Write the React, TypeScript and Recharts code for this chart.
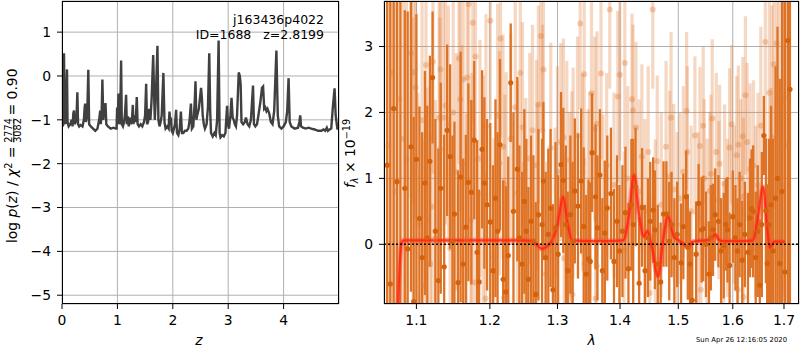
import React from 'react';
import {
  LineChart,
  Line,
  ComposedChart,
  Scatter,
  ErrorBar,
  XAxis,
  YAxis,
  CartesianGrid,
  ReferenceLine,
} from 'recharts';

const FONT = '"DejaVu Sans", sans-serif';

// left panel: log p(z) against redshift
const pzZ = [
  0.0, 0.01, 0.025, 0.036, 0.048, 0.06, 0.075, 0.09, 0.1, 0.12, 0.15, 0.175, 0.19, 0.205, 0.217, 0.228,
  0.245, 0.262, 0.277, 0.29, 0.31, 0.335, 0.37, 0.395, 0.41, 0.42, 0.432, 0.455, 0.475, 0.49, 0.52, 0.56,
  0.6, 0.64, 0.67, 0.69, 0.7, 0.715, 0.729, 0.745, 0.77, 0.785, 0.8, 0.83, 0.88, 0.93, 0.97, 0.985, 0.995,
  1.005, 1.02, 1.035, 1.05, 1.067, 1.08, 1.1, 1.12, 1.135, 1.157, 1.17, 1.19, 1.205, 1.225, 1.24, 1.265,
  1.278, 1.29, 1.31, 1.33, 1.35, 1.365, 1.39, 1.42, 1.45, 1.48, 1.5, 1.519, 1.535, 1.555, 1.575, 1.595,
  1.615, 1.646, 1.66, 1.675, 1.69, 1.723, 1.74, 1.76, 1.78, 1.8, 1.83, 1.85, 1.87, 1.9, 1.925, 1.94, 1.955,
  1.965, 1.98, 2.0, 2.02, 2.04, 2.06, 2.075, 2.1, 2.125, 2.146, 2.165, 2.19, 2.22, 2.25, 2.28, 2.3, 2.327,
  2.345, 2.37, 2.395, 2.41, 2.425, 2.44, 2.47, 2.51, 2.525, 2.54, 2.56, 2.58, 2.61, 2.635, 2.658, 2.675,
  2.69, 2.72, 2.75, 2.775, 2.8, 2.827, 2.845, 2.86, 2.89, 2.92, 2.95, 2.98, 2.995, 3.015, 3.04, 3.06, 3.08,
  3.1, 3.12, 3.14, 3.16, 3.19, 3.21, 3.225, 3.24, 3.27, 3.3, 3.32, 3.35, 3.38, 3.41, 3.448, 3.465, 3.49,
  3.52, 3.545, 3.58, 3.61, 3.63, 3.65, 3.67, 3.69, 3.71, 3.74, 3.77, 3.8, 3.83, 3.87, 3.895, 3.92, 3.96,
  4.0, 4.04, 4.065, 4.09, 4.11, 4.14, 4.2, 4.26, 4.285, 4.3, 4.315, 4.35, 4.4, 4.45, 4.5, 4.56, 4.62, 4.68,
  4.72, 4.75, 4.78, 4.8, 4.83, 4.86, 4.89, 4.92, 4.94, 4.97, 5.0,
];
const pzLog = [
  -0.55, -1.15, -1.1, 0.52, -0.9, -1.1, -0.6, 0.15, -1.05, -1.15, -1.1, -1.0, -1.15, -0.85, -0.79, -1.1,
  -1.05, -0.95, -0.37, -1.1, -1.15, -1.12, -1.15, -1.0, -0.7, -0.63, -1.05, -0.9, 0.14, -1.1, -1.15, -1.2,
  -1.25, -1.2, -1.0, -0.79, -1.1, -0.9, -0.08, -1.0, -0.7, -0.62, -1.1, -1.15, -1.2, -1.18, -1.2, -1.2, -0.72,
  -1.1, -0.4, -1.1, -1.0, 0.35, -1.1, -1.15, -1.05, -0.9, -0.43, -1.1, -0.92, -1.15, -0.95, -1.1, -0.95,
  -0.66, -1.1, -0.9, -1.05, -0.48, -1.1, -1.15, -1.1, -1.15, -1.05, -0.9, -0.18, -1.1, -1.05, -0.75, -1.0,
  -0.6, 0.48, -0.3, -1.0, -0.6, 0.69, -1.0, -1.15, -1.05, -0.9, 0.07, -1.05, -1.2, -1.15, -1.2, -0.81, -1.05,
  -0.95, -1.25, -1.3, -1.2, -1.1, -0.77, -1.3, -1.35, -1.2, -0.81, -1.3, -1.3, -1.25, -1.25, -1.2, -1.05, -0.63,
  -1.2, -1.15, -0.6, -0.12, -1.0, -0.9, -0.75, -0.27, -0.5, -0.9, -1.1, -1.2, -1.1, -0.7, 0.52, -0.8,
  -1.3, -1.38, -1.3, -1.35, -1.0, 0.81, -1.3, -1.4, -1.35, -1.38, -1.3, -0.68, -1.1, -1.2, -0.9, -0.5, -0.95,
  -1.0, -1.1, -1.15, -0.9, 0.08, 0.0, -0.2, -1.05, -1.1, -1.05, -0.95, -1.1, -1.15, -1.0, -0.22, -1.1, -1.15,
  -1.1, -0.9, -0.6, -0.27, -0.24, -0.75, -0.72, -0.8, -0.75, -0.85, -1.05, -1.1, -0.8, 0.58, -0.9, -1.15, -1.2,
  -1.15, -1.05, -0.8, -0.05, -1.05, -1.15, -1.2, -1.18, -1.05, -0.9, -1.15, -1.18, -1.2, -1.18, -1.2, -1.22, -1.25, -1.25,
  -1.22, -1.25, -1.18, -1.25, -1.22, -1.2, -0.7, -0.28, -0.9, -1.2, -1.2,
];

// right panel: spectrum, strong beam
const darkWave = [
  1.0625, 1.0665, 1.0708, 1.075, 1.0794, 1.085, 1.0887, 1.093, 1.0965, 1.1, 1.104, 1.1075, 1.1112, 1.1143,
  1.1177, 1.1213, 1.125, 1.129, 1.1322, 1.1368, 1.1408, 1.1448, 1.148, 1.1507, 1.1556, 1.1591, 1.1627,
  1.1663, 1.1699, 1.174, 1.178, 1.1821, 1.1848, 1.189, 1.1922, 1.196, 1.2006, 1.2045, 1.208, 1.211, 1.2145,
  1.219, 1.223, 1.2264, 1.23, 1.234, 1.2397, 1.2427, 1.2465, 1.25, 1.253, 1.256, 1.26, 1.2635, 1.267, 1.271,
  1.2765, 1.2785, 1.282, 1.286, 1.2895, 1.293, 1.297, 1.301, 1.3055, 1.309, 1.313, 1.316, 1.32, 1.3235,
  1.327, 1.332, 1.337, 1.341, 1.345, 1.3487, 1.3515, 1.3545, 1.36, 1.363, 1.367, 1.371, 1.375, 1.379, 1.385,
  1.39, 1.395, 1.399, 1.404, 1.409, 1.414, 1.419, 1.422, 1.426, 1.432, 1.437, 1.442, 1.447, 1.451, 1.456,
  1.459, 1.464, 1.469, 1.474, 1.479, 1.484, 1.488, 1.493, 1.498, 1.505, 1.509, 1.514, 1.517, 1.521, 1.525,
  1.532, 1.5365, 1.542, 1.545, 1.55, 1.5555, 1.559, 1.563, 1.567, 1.573, 1.578, 1.583, 1.587, 1.59, 1.594,
  1.6, 1.605, 1.609, 1.613, 1.618, 1.623, 1.629, 1.633, 1.636, 1.639, 1.644, 1.648, 1.652, 1.656, 1.66,
  1.664, 1.6665, 1.67, 1.674, 1.678, 1.683, 1.687, 1.6915, 1.696, 1.702, 1.708, 1.712,
];
const darkFlux = [
  1.2, -0.6, 2.06, 0.95, -1.2, 0.85, -0.07, 1.48, -0.87, 1.29, 0.39, -0.2, 0.93, 0.1,
  1.26, 2.53, 0.2, -0.55, 0.85, -0.34, 1.73, 1.33, 0.05, 0.46, -0.58, 1.02, -0.3,
  0.26, 0.94, 0.79, 1.58, -0.12, -0.57, 1.44, 0.93, 0.6, 0.34, -0.4, 0.7, 0.2, 1.51,
  -0.53, -0.72, -0.17, 2.45, 0.5, 1.14, 0.1, -0.3, 0.65, 0.2, -0.53, 0.35, 0.05, -0.76, 0.45,
  0.3, 0.96, -0.2, 0.15, 0.55, -0.69, 0.25, -0.15, 1.21, 0.97, 0.3, -0.4, 0.45, 0.05,
  0.81, 0.58, 0.96, 0.27, -0.45, -0.22, -0.26, 1.39, 0.72, 0.25, 1.05, -0.4, 0.17, 0.55, 0.77,
  -0.26, 0.35, -0.1, 0.2, 0.48, -0.37, 0.6, 0.3, 0.87, -0.59, 0.56, -0.4, 0.1, 0.35, 0.52,
  0.22, -0.3, -0.57, 0.46, 0.46, 0.05, 0.3, -0.2, 0.15, -0.28, 0.27, 0.72, -0.04, -0.3, -0.85,
  -0.15, 0.62, 0.22, 0.24, 0.0, -0.45, 0.1, 0.22, 0.45, 0.35, -0.1, -0.02, 0.3, 0.22, -0.32,
  0.42, 0.1, -0.1, 0.3, -0.24, 0.15, -0.12, 0.4, 0.54, 0.5, -0.2, 0.2, -0.62, 0.3, 1.65,
  0.51, -0.29, 0.3, 0.6, -0.1, 0.7, 1.0, -0.29, 0.8, -0.42, 3.09, 2.35,
];
const darkErr = [
  5.0, 5.0, 4.5, 4.5, 5.0, 2.7, 3.6, 2.2, 2.8, 2.2, 1.7, 1.9, 1.7, 2.0,
  1.6, 1.0, 1.7, 2.0, 1.6, 2.0, 1.3, 1.4, 1.6, 1.4, 1.7, 1.9, 1.6,
  1.4, 1.5, 1.4, 1.2, 1.7, 1.4, 1.2, 1.3, 1.3, 1.5, 1.6, 1.5, 1.5, 1.3,
  1.5, 1.6, 1.5, 0.9, 1.5, 1.4, 1.4, 1.4, 1.4, 1.4, 1.4, 1.3, 1.3, 1.4, 1.3,
  1.3, 1.2, 1.3, 1.3, 1.2, 1.3, 1.3, 1.2, 1.1, 1.1, 1.2, 1.2, 1.2, 1.2,
  1.1, 1.1, 1.1, 1.2, 1.2, 1.2, 1.2, 0.9, 1.1, 1.1, 1.0, 1.1, 1.1, 1.1, 1.0,
  1.1, 1.0, 1.0, 1.0, 1.0, 1.0, 1.0, 1.3, 0.9, 1.0, 0.9, 1.0, 0.9, 0.9, 0.8,
  0.9, 0.9, 0.9, 0.8, 0.8, 0.9, 0.8, 0.9, 0.8, 0.9, 0.8, 0.7, 0.8, 0.8, 0.9,
  0.8, 0.6, 0.8, 0.8, 0.8, 0.8, 0.8, 0.7, 0.7, 0.7, 0.8, 0.8, 0.7, 0.8, 0.8,
  0.7, 0.8, 0.8, 0.8, 0.9, 0.8, 0.9, 0.9, 0.9, 1.0, 1.0, 1.0, 1.0, 1.1, 0.6,
  1.1, 1.2, 1.3, 1.5, 1.7, 2.0, 2.3, 2.8, 3.0, 4.5, 5.0, 5.0,
];

// right panel: second, fainter beam
const lightWave = [
  1.064, 1.069, 1.073, 1.078, 1.083, 1.087, 1.093, 1.0956, 1.0965, 1.099, 1.102, 1.1074, 1.1104, 1.1126,
  1.1139, 1.1183, 1.1205, 1.1218, 1.125, 1.13, 1.1311, 1.1318, 1.1357, 1.1386, 1.1425, 1.1448, 1.149,
  1.153, 1.1569, 1.1586, 1.161, 1.1627, 1.1672, 1.1681, 1.1703, 1.1733, 1.1746, 1.176, 1.179, 1.1797,
  1.186, 1.1905, 1.1938, 1.1944, 1.2006, 1.2057, 1.2111, 1.2137, 1.2152, 1.2188, 1.2203, 1.2215, 1.2234,
  1.23, 1.2366, 1.2398, 1.244, 1.2473, 1.2482, 1.2521, 1.258, 1.2621, 1.268, 1.2695, 1.271, 1.2747, 1.2771,
  1.2786, 1.2822, 1.2897, 1.2963, 1.3, 1.3052, 1.3092, 1.3103, 1.3145, 1.319, 1.3224, 1.3233, 1.3244,
  1.3312, 1.3355, 1.3392, 1.3418, 1.3427, 1.348, 1.3507, 1.3535, 1.3587, 1.36, 1.3618, 1.3623, 1.3688,
  1.372, 1.378, 1.3831, 1.39, 1.3963, 1.3996, 1.4067, 1.4079, 1.413, 1.42, 1.4216, 1.4267, 1.432, 1.4367,
  1.442, 1.4475, 1.4503, 1.4553, 1.4597, 1.4631, 1.47, 1.4784, 1.4848, 1.4872, 1.4918, 1.498, 1.5028,
  1.509, 1.5149, 1.516, 1.523, 1.5298, 1.536, 1.5389, 1.5407, 1.5449, 1.5467, 1.552, 1.5572, 1.5591,
  1.5615, 1.569, 1.5739, 1.5752, 1.5826, 1.5845, 1.59, 1.5939, 1.5977, 1.603, 1.6075, 1.6094, 1.6106,
  1.615, 1.6191, 1.62, 1.6203, 1.6241, 1.6274, 1.6331, 1.6396, 1.644, 1.6483, 1.654, 1.6628, 1.6707,
  1.6741, 1.6761, 1.6794, 1.6854, 1.69, 1.6977, 1.6997, 1.705,
];
const lightFlux = [
  1.5, 2.6, 0.8, 2.2, 1.6, 1.29, 2.9, 1.14, 2.61, 2.38, 0.3, 1.88, -0.62, 2.72,
  0.38, -0.3, 0.57, 2.77, 0.09, 1.92, 1.44, 2.65, 1.92, 2.1, 1.82, -0.06, 2.0,
  1.1, 2.82, 2.2, 1.22, 2.5, 0.08, 2.53, 3.64, 0.37, 0.8, 3.36, -0.58, 2.85,
  1.3, 0.76, -0.82, 1.79, 3.39, -0.19, 1.95, 1.23, 3.12, 1.48, -0.81, 0.57, 0.91,
  1.6, 2.08, 0.78, 2.6, 1.77, -0.45, 0.52, 1.3, 1.73, 1.2, 0.44, 2.12, 3.16, 1.73,
  2.65, -0.45, 1.46, 0.07, 1.1, 1.55, 1.62, -0.21, 1.28, 0.4, 0.72, -0.76, 1.08,
  1.65, 3.35, 1.09, 2.58, -0.29, 0.55, 0.81, 2.29, 1.75, -0.82, -0.33, 1.83, 2.59,
  0.47, 1.2, 3.56, 0.9, 2.24, 2.57, -0.09, 2.75, 1.0, 2.2, 2.03, 1.77, 0.8, 1.33,
  0.5, 1.4, -0.74, 3.56, 0.19, 1.26, 0.6, 1.48, 1.03, 1.92, 0.83, 0.3, 0.7,
  1.1, 2.02, 1.4, 0.5, 1.65, 0.4, 1.49, -0.69, 1.8, 1.0, 0.3, 0.81, 1.07,
  1.91, 1.4, 0.67, 1.22, -0.34, 0.92, 0.4, 1.47, 1.82, 0.6, 1.35, -0.69, 1.51,
  1.0, 1.64, 0.72, -0.8, 2.26, 1.55, 1.14, 1.19, 0.5, 0.9, 1.8, 3.07, 2.3,
  0.37, 1.62, 2.73, 3.05, 1.2, 2.14, 2.24, 1.5,
];
const lightErr = [
  4.0, 4.0, 4.0, 3.5, 3.0, 2.4, 2.2, 2.3, 2.0, 2.0, 2.0, 2.0, 2.2, 1.8,
  2.0, 2.0, 2.0, 1.7, 2.1, 1.9, 2.0, 1.7, 1.8, 1.8, 1.8, 2.0, 1.7,
  1.8, 1.6, 1.7, 1.8, 1.6, 1.9, 1.6, 1.5, 1.8, 1.8, 1.5, 1.9, 1.6,
  1.8, 1.8, 1.9, 1.7, 1.5, 1.8, 1.7, 1.7, 1.5, 1.7, 1.8, 1.7, 1.7,
  1.6, 1.6, 1.7, 1.5, 1.6, 1.7, 1.7, 1.6, 1.6, 1.6, 1.7, 1.5, 1.4, 1.6,
  1.4, 1.7, 1.6, 1.7, 1.6, 1.5, 1.5, 1.6, 1.5, 1.6, 1.6, 1.7, 1.6,
  1.5, 1.3, 1.5, 1.4, 1.6, 1.5, 1.5, 1.4, 1.4, 1.5, 1.5, 1.4, 1.3,
  1.5, 1.4, 1.2, 1.4, 1.3, 1.3, 1.5, 1.3, 1.4, 1.3, 1.3, 1.3, 1.4, 1.4,
  1.4, 1.3, 1.5, 1.2, 1.4, 1.3, 1.4, 1.3, 1.3, 1.3, 1.3, 1.4, 1.3,
  1.3, 1.2, 1.3, 1.3, 1.2, 1.3, 1.2, 1.3, 1.2, 1.2, 1.3, 1.2, 1.2,
  1.2, 1.2, 1.2, 1.2, 1.3, 1.2, 1.2, 1.2, 1.2, 1.2, 1.2, 1.3, 1.2,
  1.2, 1.2, 1.2, 1.3, 1.2, 1.2, 1.3, 1.3, 1.3, 1.4, 1.5, 1.6, 1.8,
  2.0, 2.0, 2.2, 2.4, 2.8, 3.0, 3.0, 3.5,
];

// best-fit model
const modelWave = [
  1.074, 1.0765, 1.0785, 1.081, 1.0836, 1.1, 1.15, 1.2, 1.25, 1.2605, 1.27, 1.2764, 1.284, 1.292, 1.3,
  1.3086, 1.316, 1.3226, 1.35, 1.38, 1.405, 1.415, 1.4233, 1.432, 1.44, 1.4462, 1.454, 1.4644, 1.473,
  1.4818, 1.492, 1.5025, 1.51, 1.5173, 1.524, 1.5318, 1.55, 1.56, 1.5673, 1.573, 1.578, 1.6, 1.62, 1.6387,
  1.648, 1.6583, 1.666, 1.6716, 1.676, 1.6815, 1.7016,
];
const modelFlux = [
  -1.6, -0.9, -0.3, 0.02, 0.06, 0.06, 0.06, 0.06, 0.06, 0.05, -0.02, -0.07, -0.03, 0.06, 0.3,
  0.72, 0.3, 0.06, 0.05, 0.05, 0.06, 0.45, 1.05, 0.45, 0.12, 0.2, -0.05, -0.49, 0.05,
  0.42, 0.12, 0.05, 0.0, -0.05, 0.03, 0.05, 0.06, 0.09, 0.15, 0.08, 0.05, 0.05, 0.05, 0.06,
  0.4, 0.87, 0.3, -0.05, 0.0, 0.04, 0.04,
];

const zTicks = [0, 1, 2, 3, 4];
const pzTicks = [-5, -4, -3, -2, -1, 0, 1];
const waveTicks = [1.1, 1.2, 1.3, 1.4, 1.5, 1.6, 1.7];
const fluxTicks = [0, 1, 2, 3];

const pzData = pzZ.map((z, i) => ({ z, logp: pzLog[i] }));
const darkData = darkWave.map((wave, i) => ({ wave, flux: darkFlux[i], err: darkErr[i] }));
const lightData = lightWave.map((wave, i) => ({ wave, flux: lightFlux[i], err: lightErr[i] }));
const modelData = modelWave.map((wave, i) => ({ wave, flux: modelFlux[i] }));

const tickStyle = { fill: '#000', fontSize: 13.9, fontFamily: FONT };
const minus = (v: number) => String(v).replace('-', '\u2212');

function DarkDot(props: any) {
  return <circle cx={props.cx} cy={props.cy} r={2.6} fill="#d4620c" />;
}

function LightDot(props: any) {
  return <circle cx={props.cx} cy={props.cy} r={3} fill="rgba(224,122,53,0.35)" />;
}

const frame = (left: number, width: number): React.CSSProperties => ({
  position: 'absolute',
  left,
  top: 1,
  width,
  height: 303,
  border: '1px solid #000',
  boxSizing: 'border-box',
  pointerEvents: 'none',
});

const SPEC_MARGIN = { top: 1, right: 1, bottom: 0, left: 0 };

// both spectrum layers share these axes
function specAxes() {
  return [
    <XAxis
      key="x"
      type="number"
      dataKey="wave"
      scale="log"
      domain={[1.0586, 1.7305]}
      ticks={waveTicks}
      allowDataOverflow
      interval={0}
      height={46}
      tickSize={5}
      tickMargin={6}
      tick={tickStyle}
      tickFormatter={(v: number) => v.toFixed(1)}
      tickLine={{ stroke: '#000' }}
      axisLine={false}
    />,
    <YAxis
      key="y"
      type="number"
      dataKey="flux"
      domain={[-0.905, 3.69]}
      ticks={fluxTicks}
      allowDataOverflow
      interval={0}
      width={44}
      tickSize={5}
      tickMargin={6}
      tick={tickStyle}
      tickLine={{ stroke: '#000' }}
      axisLine={false}
    />,
  ];
}

export default function App() {
  return (
    <div style={{ position: 'absolute', left: 0, top: 0, width: 800, height: 350, background: '#fff', fontFamily: FONT }}>
      <div style={{ position: 'absolute', left: 0, top: 0 }}>
        <LineChart width={340} height={350} data={pzData} margin={{ top: 1, right: 1, bottom: 0, left: 0 }}>
          <CartesianGrid stroke="#b0b0b0" />
          <XAxis
            type="number"
            dataKey="z"
            domain={[0, 5]}
            ticks={zTicks}
            allowDataOverflow
            interval={0}
            height={46}
            tickSize={5}
            tickMargin={6}
            tick={tickStyle}
            tickLine={{ stroke: '#000' }}
            axisLine={false}
          />
          <YAxis
            type="number"
            domain={[-5.2, 1.71]}
            ticks={pzTicks}
            allowDataOverflow
            interval={0}
            width={62}
            tickSize={5}
            tickMargin={6}
            tick={tickStyle}
            tickFormatter={minus}
            tickLine={{ stroke: '#000' }}
            axisLine={false}
          />
          <Line
            dataKey="logp"
            type="linear"
            stroke="#404040"
            strokeWidth={2.4}
            dot={false}
            isAnimationActive={false}
          />
        </LineChart>
      </div>

      {/* spectrum: axes and grid */}
      <div style={{ position: 'absolute', left: 340, top: 0 }}>
        <ComposedChart width={460} height={350} margin={SPEC_MARGIN}>
          <CartesianGrid stroke="#b0b0b0" />
          {specAxes()}
        </ComposedChart>
      </div>

      {/* spectrum: data, clipped to the plot box */}
      <div style={{ position: 'absolute', left: 340, top: 0, clipPath: 'inset(1px 1px 46px 44px)' }}>
        <ComposedChart width={460} height={350} margin={SPEC_MARGIN}>
          {specAxes()}
          <Scatter data={lightData} dataKey="flux" shape={LightDot} isAnimationActive={false}>
            <ErrorBar dataKey="err" direction="y" width={0} stroke="rgba(224,122,53,0.3)" strokeWidth={3.2} />
          </Scatter>
          <Scatter data={darkData} dataKey="flux" shape={DarkDot} isAnimationActive={false}>
            <ErrorBar dataKey="err" direction="y" width={0} stroke="#de7325" strokeWidth={2.3} />
          </Scatter>
          <Line
            data={modelData}
            dataKey="flux"
            type="monotone"
            stroke="#ff4a3a"
            strokeOpacity={0.5}
            strokeWidth={5}
            dot={false}
            isAnimationActive={false}
          />
          <Line
            data={modelData}
            dataKey="flux"
            type="monotone"
            stroke="#ff1f00"
            strokeOpacity={0.75}
            strokeWidth={2.2}
            dot={false}
            isAnimationActive={false}
          />
          <ReferenceLine y={0} stroke="#000" strokeDasharray="2 2" strokeWidth={1.6} />
        </ComposedChart>
      </div>

      <div style={frame(62, 277)} />
      <div style={frame(384, 415)} />

      <svg
        width={800}
        height={350}
        style={{ position: 'absolute', left: 0, top: 0, pointerEvents: 'none' }}
        fontFamily={FONT}
      >
        <text x={324} y={24.3} textAnchor="end" fontSize={12.5}>j163436p4022</text>
        <text x={324} y={39.3} textAnchor="end" fontSize={12.5} style={{ whiteSpace: 'pre' }}>
          {'ID=1688   z=2.8199'}
        </text>

        <g transform="translate(13,154) rotate(-90)">
          <text x={7.5} y={4} textAnchor="end" fontSize={13.9}>
            log <tspan fontStyle="italic">p</tspan>(<tspan fontStyle="italic">z</tspan>) / <tspan fontStyle="italic">χ</tspan>
            <tspan fontSize={9.7} dy={-5.5}>2</tspan>
            <tspan dy={5.5}> =</tspan>
          </text>
          <text x={23.5} y={-1.3} textAnchor="middle" fontSize={9.7}>2774</text>
          <line x1={11.5} x2={35.5} y1={0.8} y2={0.8} stroke="#000" strokeWidth={0.8} />
          <text x={23.5} y={7.5} textAnchor="middle" fontSize={9.7}>3082</text>
          <text x={38.5} y={4} fontSize={13.9}>= 0.90</text>
        </g>

        <text x={199} y={345} textAnchor="middle" fontSize={13.9} fontStyle="italic">z</text>

        <g transform="translate(351,153.5) rotate(-90)">
          <text x={0} y={4} textAnchor="middle" fontSize={13.9}>
            <tspan fontStyle="italic">f</tspan>
            <tspan fontSize={9.7} dy={3} fontStyle="italic">λ</tspan>
            <tspan dy={-3}>{' \u00d7 10'}</tspan>
            <tspan fontSize={9.7} dy={-5.5}>{'\u221219'}</tspan>
          </text>
        </g>

        <text x={591.5} y={345} textAnchor="middle" fontSize={13.9} fontStyle="italic">λ</text>
        <text x={696} y={341.5} fontSize={6.9}>Sun Apr 26 12:16:05 2020</text>
      </svg>
    </div>
  );
}
